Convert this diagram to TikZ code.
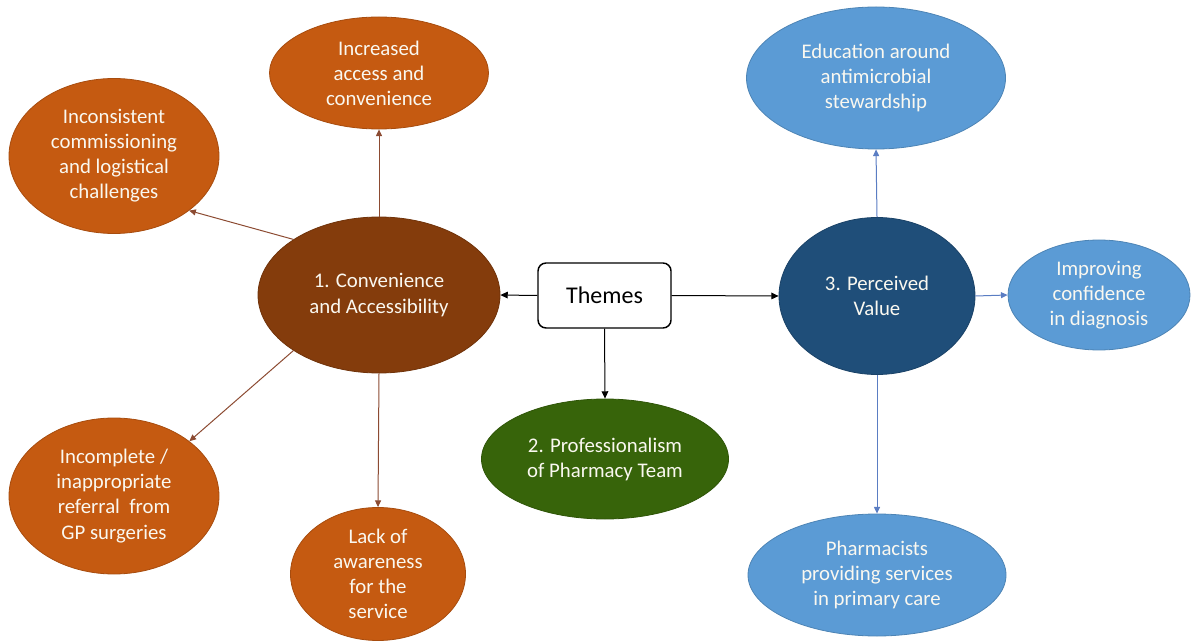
\documentclass[tikz,border=0pt]{standalone}
\usepackage{fontspec}
\setmainfont{Carlito}
\usetikzlibrary{shapes.geometric,arrows.meta}
\definecolor{orangeA}{RGB}{197,90,17}
\definecolor{brownA}{RGB}{132,60,12}
\definecolor{greenA}{RGB}{55,100,10}
\definecolor{blueL}{RGB}{91,155,213}
\definecolor{blueD}{RGB}{31,78,121}
\definecolor{arrowO}{RGB}{140,75,50}
\definecolor{arrowB}{RGB}{90,125,195}
\definecolor{txtW}{RGB}{250,248,240}
\tikzset{
  bubble/.style={ellipse, inner sep=0pt, align=center, text=txtW,
    font=\fontsize{15.6}{18.8}\selectfont, line width=0.6pt},
  orangebub/.style={bubble, fill=orangeA, draw=orangeA!85!black},
  brownbub/.style={bubble, fill=brownA, draw=brownA!85!black},
  greenbub/.style={bubble, fill=greenA, draw=greenA!85!black},
  bluebub/.style={bubble, fill=blueL, draw=blueL!85!black},
  darkbub/.style={bubble, fill=blueD, draw=blueD!85!black},
  themebox/.style={rectangle, rounded corners=6pt, draw=black, line width=1.1pt,
    fill=white, font=\fontsize{18}{22}\selectfont, inner sep=0pt},
  blackarr/.style={draw=black, line width=0.75pt, -{Triangle[length=5.5pt,width=5pt]}},
  orangearr/.style={draw=arrowO, line width=0.75pt, -{Triangle[length=5pt,width=4.5pt]}},
  bluearr/.style={draw=arrowB, line width=0.75pt, -{Triangle[length=5pt,width=4.5pt]}},
}
\begin{document}
\begin{tikzpicture}[x=0.75pt,y=-0.75pt]
\useasboundingbox (0,0) rectangle (1195,641);
% nodes
\node[themebox, minimum width=99.75pt, minimum height=48.75pt] (themes) at (604.5,295.5) {Themes};
\node[brownbub, minimum width=181.5pt, minimum height=117pt] (conv) at (379,295) {1. Convenience\\and Accessibility};
\node[orangebub, minimum width=164.25pt, minimum height=84pt] (incr) at (379,73) {Increased\\access and\\convenience};
\node[orangebub, minimum width=157.5pt, minimum height=116.25pt] (incons) at (114,156) {Inconsistent\\commissioning\\and logistical\\challenges};
\node[orangebub, minimum width=157.5pt, minimum height=117pt] (incomp) at (114,496) {Incomplete /\\inappropriate\\referral\ \ from\\GP surgeries};
\node[orangebub, minimum width=131.25pt, minimum height=99.75pt, inner ysep=-6pt] (lack) at (378,574) {Lack of\\awareness\\for the\\service};
\node[greenbub, minimum width=185.25pt, minimum height=90pt] (prof) at (605,459) {2. Professionalism\\of Pharmacy Team};
\node[darkbub, minimum width=147pt, minimum height=117.75pt] (perc) at (877,296) {3. Perceived\\Value};
\node[bluebub, minimum width=194.25pt, minimum height=106.5pt] (edu) at (876,78) {Education around\\antimicrobial\\stewardship};
\node[bluebub, minimum width=136.5pt, minimum height=82.5pt] (impr) at (1099,295) {Improving\\confidence\\in diagnosis};
\node[bluebub, minimum width=193.5pt, minimum height=91.5pt] (pharm) at (877,575) {Pharmacists\\providing services\\in primary care};
% connectors
\draw[blackarr] (themes.west) -- (conv.east);
\draw[blackarr] (themes.east) -- (perc.west);
\draw[blackarr] (themes.south) -- (prof.north);
\draw[orangearr] (conv.north) -- (incr.south);
\draw[orangearr] (conv.147.8) -- (incons.-36.9);
\draw[orangearr] (conv.213) -- (incomp.36.4);
\draw[orangearr] (conv.south) -- (lack.north);
\draw[bluearr] (perc.north) -- (edu.south);
\draw[bluearr] (perc.east) -- (impr.west);
\draw[bluearr] (perc.south) -- (pharm.north);
\end{tikzpicture}
\end{document}
